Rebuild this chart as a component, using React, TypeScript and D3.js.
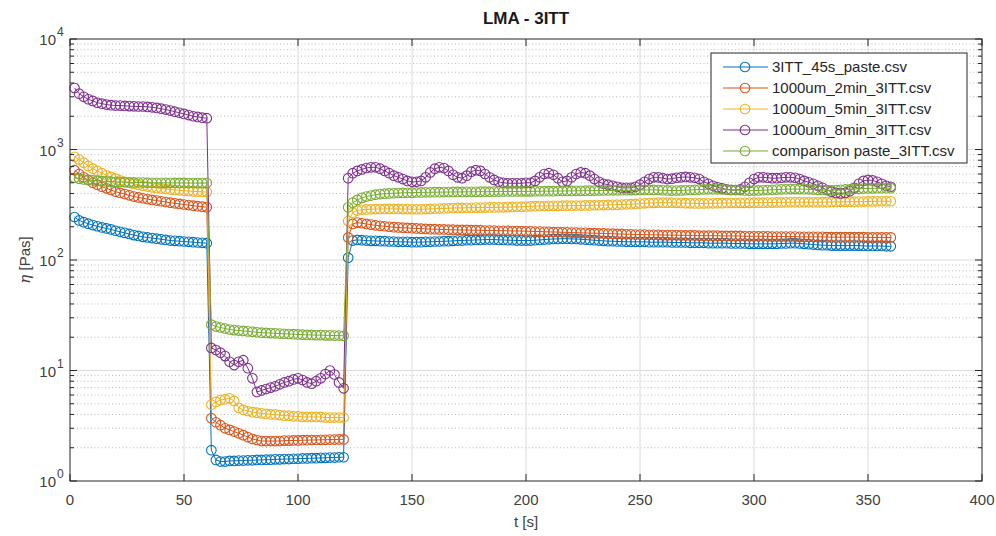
import React from 'react';
import * as d3 from 'd3';

// sample times (s), one reading every 2 s over the three intervals
const times = d3.range(2, 361, 2);

const seriesNames = [
  '3ITT_45s_paste.csv',
  '1000um_2min_3ITT.csv',
  '1000um_5min_3ITT.csv',
  '1000um_8min_3ITT.csv',
  'comparison paste_3ITT.csv',
];
const seriesColors = ['#0072BD', '#D95319', '#EDB120', '#7E2F8E', '#77AC30'];

const paste45s = [
  // 0-60 s
  245, 228, 220, 213, 207, 202, 197, 193, 189, 184,
  180, 176, 172, 168, 165, 162, 160, 158, 156, 154,
  152, 150, 149, 148, 147, 146, 145, 144, 143, 142,
  // 60-120 s
  1.9, 1.55, 1.5, 1.5, 1.52, 1.52, 1.53, 1.53, 1.54, 1.54,
  1.55, 1.55, 1.56, 1.56, 1.57, 1.57, 1.58, 1.58, 1.59, 1.59,
  1.6, 1.6, 1.61, 1.61, 1.62, 1.62, 1.63, 1.63, 1.64, 1.64,
  // 120-360 s
  105, 150, 152, 151, 150, 149, 149, 148, 148, 147,
  147, 146, 146, 146, 145, 145, 145, 146, 146, 147,
  147, 148, 148, 149, 150, 150, 151, 151, 152, 152,
  153, 153, 153, 152, 152, 151, 151, 150, 150, 150,
  150, 151, 152, 153, 154, 155, 155, 156, 156, 155,
  155, 154, 153, 152, 151, 150, 149, 148, 148, 147,
  147, 146, 146, 146, 146, 146, 145, 145, 145, 145,
  145, 144, 144, 144, 144, 143, 143, 143, 143, 142,
  142, 142, 142, 142, 141, 141, 141, 141, 140, 140,
  140, 140, 140, 140, 140, 141, 141, 142, 142, 141,
  140, 139, 138, 137, 136, 136, 135, 135, 135, 135,
  135, 135, 135, 134, 134, 134, 134, 134, 133, 133,
];

const um2min = [
  650, 600, 560, 530, 500, 480, 460, 445, 430, 415,
  405, 395, 385, 375, 368, 362, 356, 350, 345, 340,
  335, 330, 326, 322, 318, 314, 310, 307, 304, 300,
  3.7, 3.4, 3.2, 3.0, 2.9, 2.8, 2.7, 2.6, 2.5, 2.4,
  2.35, 2.3, 2.3, 2.3, 2.3, 2.3, 2.32, 2.32, 2.33, 2.33,
  2.34, 2.34, 2.35, 2.35, 2.36, 2.36, 2.37, 2.37, 2.38, 2.38,
  160, 212, 218, 215, 212, 209, 206, 204, 202, 200,
  198, 197, 196, 195, 194, 193, 192, 191, 190, 190,
  189, 189, 188, 188, 187, 187, 187, 186, 186, 186,
  185, 185, 185, 184, 184, 184, 183, 183, 183, 182,
  182, 181, 181, 180, 180, 179, 179, 178, 178, 177,
  177, 176, 176, 175, 175, 174, 174, 173, 173, 172,
  172, 171, 171, 170, 170, 170, 169, 169, 169, 168,
  168, 168, 168, 167, 167, 167, 167, 166, 166, 166,
  166, 166, 165, 165, 165, 165, 165, 164, 164, 164,
  164, 164, 164, 163, 163, 163, 163, 163, 163, 162,
  162, 162, 162, 162, 162, 161, 161, 161, 161, 161,
  161, 161, 161, 161, 160, 160, 160, 160, 160, 160,
];

const um5min = [
  860, 810, 760, 710, 670, 640, 610, 585, 565, 545,
  525, 510, 498, 488, 478, 470, 462, 455, 449, 444,
  439, 435, 431, 427, 424, 421, 418, 416, 414, 412,
  4.9, 5.2, 5.4, 5.5, 5.6, 5.3, 4.6, 4.4, 4.3, 4.2,
  4.15, 4.1, 4.05, 4.0, 4.0, 3.95, 3.9, 3.9, 3.85, 3.85,
  3.8, 3.8, 3.8, 3.8, 3.8, 3.75, 3.75, 3.75, 3.75, 3.75,
  225, 268, 280, 285, 287, 288, 289, 289, 290, 290,
  290, 290, 289, 289, 288, 288, 288, 289, 290, 291,
  292, 293, 294, 295, 296, 296, 297, 297, 298, 298,
  298, 299, 299, 300, 300, 301, 302, 303, 304, 305,
  306, 307, 308, 308, 309, 309, 309, 310, 310, 310,
  311, 311, 312, 312, 313, 313, 314, 315, 316, 317,
  318, 319, 320, 322, 324, 326, 328, 329, 330, 330,
  330, 330, 329, 328, 327, 326, 325, 325, 325, 326,
  326, 327, 327, 328, 328, 328, 329, 329, 329, 330,
  330, 330, 331, 331, 332, 332, 333, 333, 333, 333,
  333, 333, 333, 333, 334, 334, 335, 335, 336, 336,
  337, 337, 338, 338, 339, 339, 340, 340, 340, 340,
];

const um8min = [
  3600, 3200, 3000, 2850, 2750, 2650, 2600, 2550, 2520, 2500,
  2500, 2480, 2470, 2460, 2450, 2450, 2430, 2410, 2380, 2340,
  2300, 2250, 2200, 2150, 2100, 2050, 2000, 1970, 1940, 1920,
  16, 15.3, 14.5, 13.5, 12, 11.2, 12, 12.4, 10.5, 8.5,
  6.4, 6.6, 6.8, 7.0, 7.2, 7.5, 7.8, 8.0, 8.3, 8.5,
  8.2, 7.8, 7.6, 8.0, 8.5, 9.3, 10.0, 9.2, 7.8, 6.9,
  550, 610, 640, 660, 680, 690, 690, 670, 640, 610,
  580, 560, 540, 520, 510, 510, 520, 560, 620, 670,
  690, 680, 640, 590, 560, 550, 580, 630, 650, 640,
  600, 560, 530, 510, 500, 495, 495, 495, 495, 500,
  500, 520, 560, 600, 610, 590, 550, 510, 520, 560,
  600, 620, 610, 580, 540, 510, 490, 480, 470, 460,
  450, 450, 450, 460, 480, 510, 540, 560, 560, 550,
  540, 545, 555, 560, 565, 560, 555, 540, 510, 490,
  470, 455, 445, 435, 430, 430, 435, 460, 500, 540,
  560, 560, 555, 550, 550, 555, 560, 560, 555, 540,
  520, 505, 490, 470, 450, 430, 415, 405, 400, 405,
  420, 450, 490, 520, 530, 525, 510, 490, 470, 460,
];

const comparison = [
  555, 545, 535, 530, 525, 520, 517, 514, 512, 510,
  508, 506, 505, 504, 503, 502, 501, 500, 500, 500,
  499, 499, 498, 498, 498, 497, 497, 497, 497, 497,
  26, 25, 24.5, 24, 23.5, 23.2, 23, 22.8, 22.6, 22.4,
  22.2, 22, 21.9, 21.8, 21.7, 21.6, 21.5, 21.4, 21.3, 21.2,
  21.1, 21, 21, 20.9, 20.9, 20.8, 20.8, 20.7, 20.7, 20.6,
  300, 330, 350, 365, 375, 383, 390, 395, 398, 400,
  402, 404, 405, 406, 407, 408, 409, 410, 410, 411,
  411, 412, 412, 413, 413, 413, 414, 414, 414, 415,
  415, 415, 416, 416, 416, 417, 417, 417, 418, 418,
  418, 419, 419, 420, 420, 420, 421, 421, 422, 422,
  423, 423, 424, 424, 425, 425, 426, 426, 427, 427,
  428, 428, 429, 429, 430, 430, 431, 431, 430, 428,
  426, 425, 425, 426, 428, 430, 432, 434, 435, 436,
  436, 436, 435, 434, 432, 430, 428, 426, 425, 425,
  426, 428, 430, 432, 434, 436, 437, 438, 438, 438,
  437, 436, 434, 432, 430, 428, 428, 430, 432, 435,
  437, 439, 441, 443, 444, 445, 446, 446, 447, 447,
];

const seriesValues = [paste45s, um2min, um5min, um8min, comparison];

const xTicks = [0, 50, 100, 150, 200, 250, 300, 350, 400];
const yDecades = [1, 10, 100, 1000, 10000];
const yExponents = ['0', '1', '2', '3', '4'];

const W = 996;
const H = 536;
const FONT = '"Liberation Sans", Arial, Helvetica, sans-serif';
const AX = '#262626';

export default function App() {
  const x = d3.scaleLinear().domain([0, 400]).range([70, 982]);
  const y = d3.scaleLog().domain([1, 10000]).range([481, 39]);
  const [x0, x1] = x.range();
  const [y0, y1] = y.range();

  const minorY: number[] = [];
  yDecades.slice(0, -1).forEach(d => {
    for (let m = 2; m <= 9; m++) minorY.push(d * m);
  });

  const line = d3.line<[number, number]>()
    .x(d => x(d[0]))
    .y(d => y(d[1]));

  const legendX = 711;
  const legendY = 53;
  const legendW = 256;
  const legendH = 110;
  const rowH = 21;

  return (
    <svg width={W} height={H} style={{ position: 'fixed', left: 0, top: 0, background: '#fff' }}
      fontFamily={FONT}>
      <rect x={0} y={0} width={W} height={H} fill="#fff" />

      {/* minor y grid */}
      {minorY.map(v => (
        <line key={'mg' + v} x1={x0} x2={x1} y1={y(v)} y2={y(v)}
          stroke="#bdbdbd" strokeWidth={1} strokeDasharray="1,2.5" />
      ))}
      {/* major grid */}
      {yDecades.slice(1, -1).map(v => (
        <line key={'gy' + v} x1={x0} x2={x1} y1={y(v)} y2={y(v)} stroke="#dcdcdc" strokeWidth={1} />
      ))}
      {xTicks.slice(1, -1).map(v => (
        <line key={'gx' + v} x1={x(v)} x2={x(v)} y1={y0} y2={y1} stroke="#dcdcdc" strokeWidth={1} />
      ))}

      {/* series */}
      {seriesValues.map((vals, i) => {
        const pts: [number, number][] = vals.map((v, j) => [times[j], v]);
        return (
          <g key={'s' + i} stroke={seriesColors[i]} fill="none">
            <path d={line(pts) || ''} strokeWidth={1} />
            {pts.map((p, j) => (
              <circle key={j} cx={x(p[0])} cy={y(p[1])} r={4.8} strokeWidth={1.1} />
            ))}
          </g>
        );
      })}

      {/* axes box */}
      <rect x={x0} y={y1} width={x1 - x0} height={y0 - y1} fill="none" stroke={AX} strokeWidth={1} />
      {xTicks.map(v => (
        <g key={'xt' + v}>
          <line x1={x(v)} x2={x(v)} y1={y0} y2={y0 - 7} stroke={AX} />
          <line x1={x(v)} x2={x(v)} y1={y1} y2={y1 + 7} stroke={AX} />
          <text x={x(v)} y={y0 + 24} textAnchor="middle" fontSize={15} fill="#404040">{v}</text>
        </g>
      ))}
      {yDecades.map(v => (
        <g key={'yt' + v}>
          <line x1={x0} x2={x0 + 7} y1={y(v)} y2={y(v)} stroke={AX} />
          <line x1={x1} x2={x1 - 7} y1={y(v)} y2={y(v)} stroke={AX} />
        </g>
      ))}
      {minorY.map(v => (
        <g key={'ym' + v}>
          <line x1={x0} x2={x0 + 4} y1={y(v)} y2={y(v)} stroke={AX} />
          <line x1={x1} x2={x1 - 4} y1={y(v)} y2={y(v)} stroke={AX} />
        </g>
      ))}
      {yDecades.map((v, i) => (
        <text key={'yl' + v} x={56} y={y(v) + 6} textAnchor="end" fontSize={15} fill="#404040">
          10
          <tspan x={57} dy={-9} textAnchor="start" fontSize={12}>{yExponents[i]}</tspan>
        </text>
      ))}

      {/* labels */}
      <text x={(x0 + x1) / 2} y={24} textAnchor="middle" fontSize={17} fontWeight="bold" fill="#1a1a1a">
        LMA - 3ITT
      </text>
      <text x={(x0 + x1) / 2} y={527} textAnchor="middle" fontSize={15} fill="#404040">t [s]</text>
      <text transform={`translate(30,${(y0 + y1) / 2}) rotate(-90)`} textAnchor="middle" fontSize={15} fill="#404040">
        <tspan fontStyle="italic" fontFamily='"DejaVu Serif", serif'>η</tspan> [Pas]
      </text>

      {/* legend */}
      <rect x={legendX} y={legendY} width={legendW} height={legendH} fill="#fff" stroke={AX} strokeWidth={1} />
      {seriesNames.map((name, i) => {
        const cy = legendY + 14 + i * rowH;
        return (
          <g key={'lg' + i}>
            <line x1={723} x2={768} y1={cy} y2={cy} stroke={seriesColors[i]} strokeWidth={1} />
            <circle cx={745} cy={cy} r={4.8} fill="none" stroke={seriesColors[i]} strokeWidth={1.1} />
            <text x={772} y={cy + 5} fontSize={15} fill="#262626">{name}</text>
          </g>
        );
      })}
    </svg>
  );
}
